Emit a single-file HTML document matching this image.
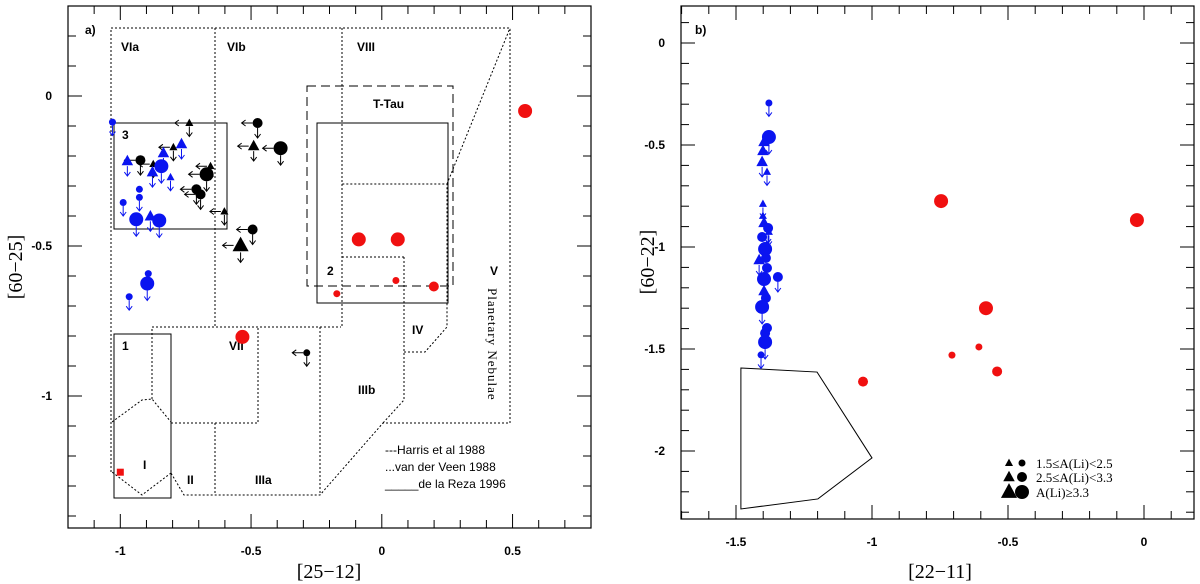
<!DOCTYPE html>
<html><head><meta charset="utf-8"><style>
body{margin:0;background:#fff;}
svg{display:block;font-family:"Liberation Sans",sans-serif;}
.tl{font-size:12px;font-weight:bold;}
.lab{font-size:12px;font-weight:bold;}
.ttl{font-family:"Liberation Serif",serif;font-size:20px;}
</style></head><body>
<svg id="chart" width="1200" height="584" viewBox="0 0 1200 584" xmlns="http://www.w3.org/2000/svg">
<g id="pa"></g>
<g id="pb"></g>
</svg>
<script>
// ---- Panel a data: [x, y, shape, size, arrow]
const aBlue = [[-1.03,-0.087,'c','s',1],[-0.973,-0.217,'t','m',1],[-0.835,-0.19,'t','m',1],[-0.766,-0.16,'t','m',1],[-0.877,-0.254,'t','m',1],[-0.843,-0.234,'c','l',1],[-0.808,-0.271,'t','s',1],[-0.927,-0.311,'c','s',0],[-0.927,-0.338,'c','s',1],[-0.989,-0.355,'c','s',1],[-0.939,-0.411,'c','l',1],[-0.885,-0.401,'t','m',1],[-0.851,-0.415,'c','l',1],[-0.893,-0.592,'c','s',0],[-0.897,-0.625,'c','l',1],[-0.966,-0.669,'c','s',1]];
const aBlack = [[-0.736,-0.09,'t','s'],[-0.923,-0.214,'c','m'],[-0.874,-0.227,'t','s'],[-0.797,-0.171,'t','s'],[-0.475,-0.09,'c','m'],[-0.49,-0.167,'t','m'],[-0.387,-0.174,'c','l'],[-0.655,-0.234,'t','s'],[-0.67,-0.261,'c','l'],[-0.709,-0.311,'c','m'],[-0.693,-0.328,'c','m'],[-0.602,-0.385,'t','s'],[-0.494,-0.445,'c','m'],[-0.54,-0.498,'t','l'],[-0.287,-0.856,'c','s']];
const aRed = [[-0.088,-0.478,'l'],[0.061,-0.478,'l'],[0.054,-0.615,'s'],[0.199,-0.635,'m'],[-0.172,-0.659,'s'],[0.548,-0.05,'l'],[-0.533,-0.803,'l']];
const aRedSquare = [[-1.0,-1.254]];
const aXTicks = [-1,-0.5,0,0.5];
const aYTicks = [0,-0.5,-1];
// ---- Panel b data
const bBlue = [[-1.379,-0.294,'c','s',1],[-1.379,-0.461,'c','l',1],[-1.397,-0.485,'t','m',0],[-1.401,-0.529,'t','m',0],[-1.404,-0.583,'t','m',1],[-1.386,-0.632,'t','s',1],[-1.401,-0.789,'t','s',1],[-1.401,-0.848,'t','s',0],[-1.397,-0.882,'t','m',0],[-1.382,-0.907,'c','m',1],[-1.379,-0.926,'t','s',1],[-1.404,-0.951,'c','m',0],[-1.393,-1.01,'c','l',0],[-1.415,-1.064,'t','m',1],[-1.39,-1.054,'c','m',0],[-1.386,-1.103,'c','m',1],[-1.397,-1.157,'c','l',0],[-1.346,-1.147,'c','m',1],[-1.397,-1.216,'t','m',0],[-1.39,-1.25,'c','m',0],[-1.404,-1.294,'c','l',1],[-1.386,-1.397,'c','m',0],[-1.393,-1.422,'c','m',0],[-1.393,-1.466,'c','l',1],[-1.408,-1.529,'c','s',1]];
const bRed = [[-0.746,-0.775,'l'],[-0.026,-0.868,'l'],[-0.581,-1.30,'l'],[-1.033,-1.66,'m'],[-0.706,-1.53,'s'],[-0.607,-1.49,'s'],[-0.540,-1.61,'m']];
const bPoly = [[-1.482,-1.593],[-1.202,-1.613],[-1.0,-2.034],[-1.199,-2.235],[-1.482,-2.284]];
const bXTicks = [-1.5,-1,-0.5,0];
const bYTicks = [0,-0.5,-1,-1.5,-2];

const NS='http://www.w3.org/2000/svg';
function mk(parent,tag,attrs,text){const e=document.createElementNS(NS,tag);for(const k in attrs)e.setAttribute(k,attrs[k]);if(text!==undefined)e.textContent=text;parent.appendChild(e);return e;}
const R={s:3.5,m:5,l:7};
const BLUE='#0a14f0',RED='#f01010';

function axes(g,L,T,Rt,B,sx,sy,xmin,xmax,ymin,ymax,xt,yt){
  const f=mk(g,'rect',{x:L,y:T,width:Rt-L,height:B-T,fill:'none',stroke:'#000','stroke-width':1.2});
  
  for(let v=Math.ceil(xmin*10);v<=Math.floor(xmax*10);v++){
    const x=sx(v/10);const maj=Math.abs(v%5)===0;const len=maj?14:8;
    mk(g,'line',{x1:x,y1:B,x2:x,y2:B-len,stroke:'#000'});
    mk(g,'line',{x1:x,y1:T,x2:x,y2:T+len,stroke:'#000'});
  }
  for(let v=Math.ceil(ymin*10);v<=Math.floor(ymax*10);v++){
    const y=sy(v/10);const maj=Math.abs(v%5)===0;const len=maj?14:8;
    mk(g,'line',{x1:L,y1:y,x2:L+len,y2:y,stroke:'#000'});
    mk(g,'line',{x1:Rt,y1:y,x2:Rt-len,y2:y,stroke:'#000'});
  }
  xt.forEach(v=>{const t=mk(g,'text',{x:sx(v),y:B+27,'text-anchor':'middle',class:'tl'},String(v));});
  yt.forEach(v=>{const t=mk(g,'text',{x:L-16,y:sy(v)+4,'text-anchor':'end',class:'tl'},String(v));});
}
function marker(g,x,y,shape,size,col){
  const r=R[size];
  if(shape==='c'){return mk(g,'circle',{cx:x,cy:y,r:r,fill:col});}
  const h=r*2.1;return mk(g,'polygon',{points:`${x},${y-h*0.6} ${x-r*1.15},${y+h*0.4} ${x+r*1.15},${y+h*0.4}`,fill:col});
}
function downArrow(g,x,y,r,col){const y0=y+r,y1=y0+10;mk(g,'path',{d:`M${x},${y0}V${y1}M${x-3},${y1-4}L${x},${y1}L${x+3},${y1-4}`,stroke:col,fill:'none','stroke-width':1});}
function leftArrow(g,x,y,r,col){const x0=x-r,x1=x0-11;mk(g,'path',{d:`M${x0},${y}H${x1}M${x1+4},${y-3}L${x1},${y}L${x1+4},${y+3}`,stroke:col,fill:'none','stroke-width':1});}

// ---------- Panel a
(function(){
  const g=document.getElementById('pa');
  const L=68,Rt=591,T=6,B=528,xmin=-1.2,xmax=0.8,ymin=-1.44,ymax=0.3;
  const sx=v=>L+(v-xmin)/(xmax-xmin)*(Rt-L), sy=v=>T+(ymax-v)/(ymax-ymin)*(B-T);
  axes(g,L,T,Rt,B,sx,sy,xmin,xmax,ymin,ymax,aXTicks,aYTicks);
  const dot={fill:'none',stroke:'#000','stroke-width':1,'stroke-dasharray':'2,2'};
  const P=(pts)=>pts.map(p=>p.join(',')).join(' ');
  [
   [[111,472],[111,28],[510,28],[510,423],[383,423],[320,495],[184,495],[171,473]],
   [[215,28],[215,327]],[[342,28],[342,327]],[[152,399],[152,327],[341,327]],
   [[171,423],[258,423],[258,327]],[[215,423],[215,495]],[[320,327],[320,495]],
   [[404,257],[404,400],[383,423]],[[404,352],[425,352],[447,327],[447,184],[342,184]],
   [[342,257],[405,257]],[[447,184],[510,28]],
   [[112,422],[142,400],[152,399],[171,422],[171,473],[142,495],[112,472]]
  ].forEach(p=>{const e=mk(g,'polyline',Object.assign({points:P(p)},dot));});
  const sol={fill:'none',stroke:'#000','stroke-width':1};
  [[114,123,227,229],[114,334,171,498],[317,123,448,303]].forEach(b=>{const e=mk(g,'rect',Object.assign({x:b[0],y:b[1],width:b[2]-b[0],height:b[3]-b[1]},sol));});
  const tt=mk(g,'rect',{x:307,y:86,width:146,height:200,fill:'none',stroke:'#000','stroke-width':1,'stroke-dasharray':'9,5'});
  
  [['a)',85,34],['VIa',121,51],['VIb',227,51],['VIII',357,51],['T-Tau',373,108],['3',122,139],['2',327,275],['V',490,275],['IV',412,334],['1',122,350],['VII',229,350],['IIIb',358,394],['I',143,469],['II',187,484],['IIIa',255,484]].forEach(l=>{const t=mk(g,'text',{x:l[1],y:l[2],class:'lab'},l[0]);});
  const pn=mk(g,'text',{x:488,y:288,transform:'rotate(90 488 288)',style:'font-family:"Liberation Serif",serif;font-size:13px;letter-spacing:1px'},'Planetary Nebulae');
  
  [['---Harris et al 1988',385,454],['...van der Veen 1988',385,471],['_____de la Reza 1996',385,488]].forEach(l=>{const t=mk(g,'text',{x:l[1],y:l[2],style:'font-size:12px'},l[0]);});
  aBlack.forEach(d=>{const x=sx(d[0]),y=sy(d[1]);const m=marker(g,x,y,d[2],d[3],'#000');leftArrow(g,x,y,R[d[3]],'#000');downArrow(g,x,y,R[d[3]],'#000');});
  aBlue.forEach(d=>{const x=sx(d[0]),y=sy(d[1]);const m=marker(g,x,y,d[2],d[3],BLUE);if(d[4])downArrow(g,x,y,R[d[3]],BLUE);});
  aRed.forEach(d=>{const m=marker(g,sx(d[0]),sy(d[1]),'c',d[2],RED);});
  aRedSquare.forEach(d=>{const m=mk(g,'rect',{x:sx(d[0])-3.5,y:sy(d[1])-3.5,width:7,height:7,fill:RED});});
  const xt=mk(g,'text',{x:329,y:578,'text-anchor':'middle',class:'ttl'},'[25−12]');
  const yt=mk(g,'text',{x:22,y:267,'text-anchor':'middle',class:'ttl',transform:'rotate(-90 22 267)'},'[60−25]');
})();

// ---------- Panel b
(function(){
  const g=document.getElementById('pb');
  const L=681,Rt=1194,T=6,B=519;
  const x0=1144,kx=272,y0=43,ky=204;
  const sx=v=>x0+v*kx, sy=v=>y0-v*ky;
  const xmin=(L-x0)/kx,xmax=(Rt-x0)/kx,ymax=(y0-T)/ky,ymin=(y0-B)/ky;
  axes(g,L,T,Rt,B,sx,sy,xmin,xmax,ymin,ymax,bXTicks,bYTicks);
  const poly=mk(g,'polygon',{points:bPoly.map(p=>sx(p[0])+','+sy(p[1])).join(' '),fill:'none',stroke:'#000','stroke-width':1});
  
  const bl=mk(g,'text',{x:695,y:34,class:'lab'},'b)');
  bBlue.forEach(d=>{const x=sx(d[0]),y=sy(d[1]);const m=marker(g,x,y,d[2],d[3],BLUE);if(d[4])downArrow(g,x,y,R[d[3]],BLUE);});
  bRed.forEach(d=>{const m=marker(g,sx(d[0]),sy(d[1]),'c',d[2],RED);});
  [['s',463,'1.5≤A(Li)<2.5'],['m',477,'2.5≤A(Li)<3.3'],['l',492,'A(Li)≥3.3']].forEach(r=>{
    const lg=mk(g,'g',{});
    marker(lg,1009,r[1],'t',r[0],'#000');marker(lg,1022,r[1],'c',r[0],'#000');
    mk(lg,'text',{x:1036,y:r[1]+5,style:'font-family:"Liberation Serif",serif;font-size:13px'},r[2]);
  });
  const xt=mk(g,'text',{x:940,y:578,'text-anchor':'middle',class:'ttl'},'[22−11]');
  const yt=mk(g,'text',{x:654,y:262,'text-anchor':'middle',class:'ttl',transform:'rotate(-90 654 262)'},'[60−22]');
})();
</script>
</body></html>
